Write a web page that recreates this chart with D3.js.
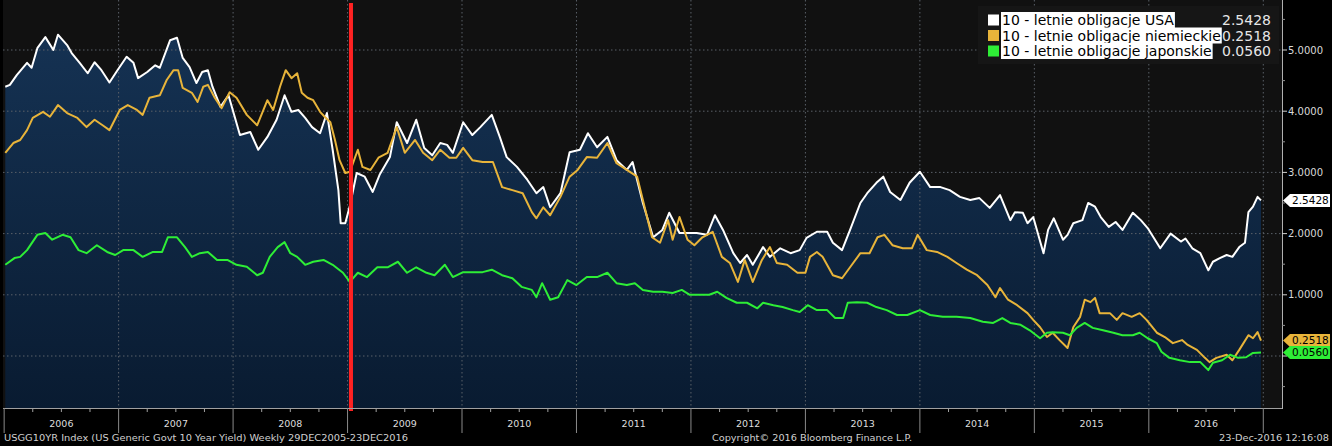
<!DOCTYPE html>
<html>
<head>
<meta charset="utf-8">
<script src="https://cdn.jsdelivr.net/npm/d3@7"></script>
<style>
html, body { margin: 0; padding: 0; background: #000; overflow: hidden; }
svg { display: block; }
</style>
</head>
<body>
<div id="chart"></div>
<script>
/* daty jako ułamek roku, wartości w % */
const us_dates = [2006.01,2006.05,2006.11,2006.20,2006.24,2006.29,2006.36,2006.43,2006.47,2006.55,2006.59,2006.66,2006.73,2006.79,2006.85,2006.92,2006.99,
	2007.07,2007.13,2007.17,2007.25,2007.32,2007.36,2007.45,2007.51,2007.56,2007.62,2007.68,2007.73,2007.78,2007.82,2007.89,2007.96,
	2008.06,2008.15,2008.22,2008.30,2008.38,2008.45,2008.51,2008.57,2008.63,2008.69,2008.76,2008.82,2008.87,2008.92,2008.94,2008.98,
	2009.02,2009.08,2009.15,2009.22,2009.28,2009.37,2009.43,2009.52,2009.60,2009.67,2009.74,2009.81,2009.87,2009.92,
	2010.01,2010.09,2010.16,2010.26,2010.33,2010.39,2010.48,2010.57,2010.65,2010.71,2010.77,2010.86,2010.94,
	2011.03,2011.10,2011.18,2011.27,2011.35,2011.44,2011.49,2011.58,2011.67,2011.75,2011.81,2011.90,
	2012.05,2012.14,2012.21,2012.28,2012.37,2012.43,2012.49,2012.54,2012.63,2012.69,2012.78,2012.87,2012.95,
	2013.01,2013.10,2013.19,2013.24,2013.32,2013.39,2013.48,2013.54,2013.62,2013.68,2013.74,2013.83,2013.91,
	2014.00,2014.09,2014.18,2014.26,2014.35,2014.44,2014.52,2014.61,2014.70,2014.79,2014.83,2014.90,2014.94,2014.99,
	2015.08,2015.12,2015.17,2015.25,2015.29,2015.34,2015.42,2015.47,2015.53,2015.58,2015.65,2015.71,2015.77,2015.86,2015.93,2015.99,
	2016.10,2016.19,2016.28,2016.32,2016.38,2016.45,2016.52,2016.56,2016.62,2016.68,2016.73,2016.79,2016.84,2016.87,2016.91,2016.95,2016.98];
const us_values = [4.40,4.43,4.59,4.79,4.71,5.03,5.21,5.00,5.25,5.08,4.95,4.79,4.62,4.80,4.67,4.47,4.67,
	4.89,4.79,4.54,4.64,4.75,4.71,5.16,5.20,4.87,4.72,4.46,4.64,4.67,4.40,4.07,4.26,
	3.61,3.66,3.37,3.58,3.86,4.26,3.99,4.02,3.89,3.74,3.64,3.97,3.37,2.71,2.17,2.17,
	2.45,2.99,2.93,2.68,2.96,3.25,3.82,3.48,3.86,3.40,3.28,3.48,3.45,3.32,
	3.82,3.61,3.74,3.94,3.58,3.25,3.09,2.88,2.66,2.76,2.43,2.66,3.33,
	3.37,3.64,3.41,3.58,3.20,3.04,3.17,2.50,1.94,2.06,2.34,2.01,
	2.01,1.98,2.30,2.06,1.68,1.52,1.65,1.49,1.78,1.62,1.76,1.68,1.73,
	1.93,2.03,2.03,1.85,1.73,2.06,2.50,2.66,2.83,2.93,2.68,2.55,2.83,
	3.01,2.76,2.76,2.71,2.60,2.55,2.58,2.42,2.63,2.22,2.35,2.34,2.17,2.27,
	1.68,2.06,2.25,1.90,1.98,2.17,2.22,2.50,2.44,2.27,2.11,2.19,2.06,2.34,2.22,2.09,
	1.76,2.00,1.87,1.92,1.76,1.68,1.40,1.54,1.60,1.65,1.62,1.78,1.85,2.35,2.44,2.60,2.5428];

const de_dates = [2006.01,2006.08,2006.14,2006.20,2006.25,2006.34,2006.40,2006.47,2006.55,2006.64,2006.72,2006.79,2006.86,2006.92,
	2007.01,2007.08,2007.16,2007.21,2007.27,2007.36,2007.42,2007.48,2007.52,2007.56,2007.64,2007.69,2007.74,2007.78,2007.84,2007.90,2007.97,
	2008.03,2008.12,2008.21,2008.30,2008.35,2008.41,2008.46,2008.51,2008.56,2008.60,2008.65,2008.70,2008.76,2008.80,2008.85,2008.89,2008.93,2008.98,
	2009.02,2009.09,2009.13,2009.20,2009.27,2009.35,2009.43,2009.50,2009.59,2009.66,2009.74,2009.81,2009.89,2009.95,
	2010.01,2010.09,2010.18,2010.27,2010.35,2010.44,2010.53,2010.61,2010.65,2010.71,2010.77,2010.86,2010.94,
	2011.01,2011.09,2011.18,2011.27,2011.35,2011.44,2011.53,2011.58,2011.66,2011.73,2011.80,2011.84,2011.90,2011.97,
	2012.03,2012.10,2012.19,2012.27,2012.34,2012.41,2012.47,2012.54,2012.62,2012.69,2012.75,2012.84,2012.93,
	2013.00,2013.04,2013.10,2013.15,2013.24,2013.32,2013.39,2013.48,2013.56,2013.63,2013.69,2013.76,2013.85,2013.93,2013.98,
	2014.06,2014.15,2014.24,2014.32,2014.41,2014.50,2014.59,2014.66,2014.70,2014.77,2014.85,2014.94,2014.99,
	2015.05,2015.11,2015.16,2015.22,2015.29,2015.34,2015.40,2015.44,2015.49,2015.53,2015.57,2015.66,2015.72,2015.77,2015.85,2015.92,2015.98,
	2016.07,2016.14,2016.21,2016.29,2016.34,2016.42,2016.49,2016.53,2016.59,2016.68,2016.73,2016.79,2016.87,2016.91,2016.95,2016.98];
const de_values = [3.32,3.48,3.53,3.69,3.89,3.99,3.91,4.10,3.97,3.89,3.74,3.86,3.77,3.69,
	4.02,4.10,4.02,3.94,4.22,4.26,4.51,4.67,4.67,4.38,4.30,4.15,4.40,4.43,4.22,4.05,4.31,
	4.22,3.94,3.77,4.18,4.02,4.40,4.67,4.54,4.62,4.30,4.22,4.18,3.99,3.91,3.82,3.53,3.20,2.99,
	3.01,3.37,3.09,3.04,3.24,3.32,3.74,3.32,3.53,3.32,3.20,3.37,3.24,3.24,
	3.40,3.20,3.17,3.17,2.76,2.71,2.66,2.35,2.25,2.43,2.30,2.60,2.93,
	3.04,3.25,3.24,3.48,3.15,3.04,2.93,2.55,1.94,1.85,2.22,1.90,2.27,1.90,
	1.81,1.94,2.03,1.62,1.52,1.21,1.57,1.21,1.57,1.78,1.52,1.49,1.36,
	1.36,1.62,1.70,1.62,1.32,1.27,1.45,1.68,1.68,1.94,1.98,1.81,1.76,1.76,1.98,
	1.73,1.70,1.62,1.52,1.41,1.32,1.16,0.96,1.11,0.92,0.83,0.70,0.59,
	0.47,0.31,0.38,0.26,0.13,0.47,0.64,0.92,0.88,0.95,0.70,0.70,0.59,0.70,0.64,0.70,0.59,
	0.38,0.31,0.21,0.26,0.18,0.10,-0.03,-0.10,-0.03,0.02,-0.07,0.10,0.34,0.29,0.39,0.2518];

const jp_dates = [2006.01,2006.09,2006.14,2006.20,2006.29,2006.36,2006.42,2006.51,2006.58,2006.65,2006.72,2006.81,2006.90,2006.97,
	2007.04,2007.13,2007.21,2007.30,2007.38,2007.43,2007.51,2007.58,2007.64,2007.71,2007.78,2007.86,2007.95,
	2008.03,2008.12,2008.21,2008.26,2008.32,2008.39,2008.45,2008.50,2008.56,2008.63,2008.70,2008.79,2008.87,2008.96,
	2009.02,2009.09,2009.17,2009.26,2009.35,2009.44,2009.52,2009.60,2009.69,2009.76,2009.85,2009.92,
	2010.01,2010.09,2010.18,2010.26,2010.35,2010.44,2010.52,2010.61,2010.65,2010.70,2010.77,2010.84,2010.92,
	2011.00,2011.09,2011.18,2011.27,2011.35,2011.44,2011.51,2011.58,2011.67,2011.75,2011.84,2011.92,2011.99,
	2012.08,2012.16,2012.23,2012.31,2012.40,2012.49,2012.58,2012.63,2012.72,2012.80,2012.89,2012.95,
	2013.02,2013.10,2013.19,2013.26,2013.33,2013.37,2013.45,2013.54,2013.62,2013.71,2013.80,2013.89,
	2014.00,2014.09,2014.20,2014.32,2014.44,2014.55,2014.64,2014.72,2014.79,2014.88,2014.96,
	2015.05,2015.11,2015.16,2015.25,2015.31,2015.37,2015.44,2015.51,2015.60,2015.69,2015.77,2015.86,2015.92,2015.99,
	2016.07,2016.11,2016.18,2016.27,2016.36,2016.45,2016.52,2016.56,2016.64,2016.71,2016.78,2016.85,2016.91,2016.98];
const jp_values = [1.49,1.60,1.62,1.73,1.98,2.01,1.90,1.98,1.94,1.73,1.68,1.81,1.70,1.65,
	1.73,1.73,1.62,1.70,1.70,1.94,1.94,1.78,1.62,1.68,1.70,1.57,1.57,
	1.49,1.46,1.32,1.36,1.62,1.78,1.86,1.68,1.62,1.49,1.54,1.57,1.49,1.36,
	1.21,1.36,1.29,1.45,1.45,1.54,1.36,1.45,1.36,1.32,1.49,1.29,
	1.37,1.37,1.37,1.41,1.32,1.27,1.13,1.08,0.96,1.19,0.92,0.96,1.24,
	1.16,1.29,1.29,1.36,1.19,1.16,1.19,1.08,1.05,1.05,1.03,1.08,1.00,
	1.00,1.00,1.05,0.95,0.87,0.87,0.78,0.87,0.83,0.80,0.75,0.72,
	0.83,0.75,0.75,0.62,0.62,0.87,0.88,0.87,0.80,0.75,0.67,0.67,
	0.75,0.67,0.64,0.64,0.62,0.56,0.54,0.62,0.54,0.51,0.42,
	0.29,0.38,0.39,0.38,0.34,0.46,0.54,0.46,0.42,0.38,0.34,0.34,0.38,0.29,
	0.21,0.07,-0.03,-0.07,-0.10,-0.10,-0.23,-0.11,-0.07,0.02,-0.03,-0.02,0.05,0.056];

const years = [2006, 2007, 2008, 2009, 2010, 2011, 2012, 2013, 2014, 2015, 2016, 2017];
const y_ticks = [0, 1, 2, 3, 4, 5];
/* etykieta 0.0000 jest zasłonięta przez znaczniki, więc jej nie ma */
const y_labels = [1, 2, 3, 4, 5];
const y_minor_ticks = [-0.5, 0.5, 1.5, 2.5, 3.5, 4.5, 5.5];
const legend_names = ['10 - letnie obligacje USA', '10 - letnie obligacje niemieckie', '10 - letnie obligacje japonskie'];
const last_values = [2.5428, 0.2518, 0.0560];
const marker_date = 2009.03;

const footer_left = 'USGG10YR Index (US Generic Govt 10 Year Yield)  Weekly 29DEC2005-23DEC2016';
const footer_mid = 'Copyright\u00a9 2016 Bloomberg Finance L.P.';
const footer_right = '23-Dec-2016 12:16:08';

/* wygląd */
const colors = ['#ffffff', '#e8b43a', '#2eee36'];
const FONT = 'DejaVu Sans, Verdana, sans-serif';
const plot = {left: 3, right: 1282, top: 0, bottom: 408};

const zip = (dates, values) => dates.map((t, i) => ({t: t, v: values[i]}));

const draw = () => {
	const svg = d3.select('#chart').append('svg')
		.attr('width', 1332).attr('height', 446);

	const x_scale = d3.scaleLinear().domain([2005.99, 2016.98]).range([3, 1261]);
	const y_scale = d3.scaleLinear().domain([0, 5]).range([356, 50]);

	const us = zip(us_dates, us_values);
	const de = zip(de_dates, de_values);
	const jp = zip(jp_dates, jp_values);

	// gradient pod linią USA
	const defs = svg.append('defs');
	const grad = defs.append('linearGradient').attr('id', 'fill_grad')
		.attr('gradientUnits', 'userSpaceOnUse')
		.attr('x1', 0).attr('y1', plot.top).attr('x2', 0).attr('y2', plot.bottom);
	grad.append('stop').attr('offset', 0).attr('stop-color', '#163456');
	grad.append('stop').attr('offset', 1).attr('stop-color', '#091b31');

	defs.append('clipPath').attr('id', 'plot_clip').append('rect')
		.attr('x', plot.left).attr('y', plot.top)
		.attr('width', plot.right - plot.left).attr('height', plot.bottom - plot.top);

	// tło wykresu
	svg.append('rect')
		.attr('x', plot.left).attr('y', plot.top)
		.attr('width', plot.right - plot.left).attr('height', plot.bottom - plot.top)
		.attr('fill', '#111111');

	const g = svg.append('g').attr('clip-path', 'url(#plot_clip)');

	const area = d3.area()
		.x(d => x_scale(d.t))
		.y0(plot.bottom)
		.y1(d => y_scale(d.v));
	g.append('path').datum(us).attr('d', area).attr('fill', 'url(#fill_grad)');

	// siatka
	g.selectAll('.vgrid').data(years.slice(1)).enter().append('line')
		.attr('x1', d => x_scale(d)).attr('x2', d => x_scale(d))
		.attr('y1', plot.top).attr('y2', plot.bottom)
		.attr('stroke', '#5a6068').attr('stroke-width', 1)
		.attr('stroke-dasharray', '1.5,2.5');
	g.selectAll('.hgrid').data(y_ticks).enter().append('line')
		.attr('x1', plot.left).attr('x2', plot.right)
		.attr('y1', d => y_scale(d)).attr('y2', d => y_scale(d))
		.attr('stroke', '#5a6068').attr('stroke-width', 1)
		.attr('stroke-dasharray', '1.5,2.5');

	// linie
	const line = d3.line().x(d => x_scale(d.t)).y(d => y_scale(d.v));
	[us, de, jp].forEach((s, i) => {
		g.append('path').datum(s)
			.attr('d', line)
			.attr('fill', 'none')
			.attr('stroke', colors[i])
			.attr('stroke-width', 2)
			.attr('stroke-linejoin', 'round');
	});

	// czerwona linia
	svg.append('line')
		.attr('x1', x_scale(marker_date)).attr('x2', x_scale(marker_date))
		.attr('y1', 3).attr('y2', 411)
		.attr('stroke', '#ff2222').attr('stroke-width', 4);

	// oś X
	svg.append('line')
		.attr('x1', plot.left).attr('x2', plot.right)
		.attr('y1', plot.bottom + 0.5).attr('y2', plot.bottom + 0.5)
		.attr('stroke', '#a0a0a0');
	let quarters = [];
	years.slice(0, -1).forEach(y => [0.25, 0.5, 0.75].forEach(q => quarters.push(y + q)));
	svg.selectAll('.qtick').data(quarters).enter().append('line')
		.attr('x1', d => x_scale(d)).attr('x2', d => x_scale(d))
		.attr('y1', plot.bottom).attr('y2', plot.bottom + 4)
		.attr('stroke', '#a0a0a0');
	svg.selectAll('.ytick_sep').data(years).enter().append('line')
		.attr('x1', d => Math.max(plot.left, x_scale(d))).attr('x2', d => Math.max(plot.left, x_scale(d)))
		.attr('y1', plot.bottom).attr('y2', 433)
		.attr('stroke', '#8a8a8a');
	svg.selectAll('.year_label').data(years.slice(0, -1)).enter().append('text')
		.attr('x', d => x_scale(d + 0.5)).attr('y', 427)
		.attr('text-anchor', 'middle')
		.attr('font-family', FONT).attr('font-size', '9.5px')
		.attr('fill', '#dddddd')
		.text(d => d);

	// oś Y (prawa)
	svg.append('line')
		.attr('x1', plot.right + 0.5).attr('x2', plot.right + 0.5)
		.attr('y1', plot.top).attr('y2', plot.bottom + 1)
		.attr('stroke', '#b0b0b0');
	svg.selectAll('.ymajor').data(y_ticks).enter().append('line')
		.attr('x1', plot.right).attr('x2', plot.right + 5)
		.attr('y1', d => y_scale(d)).attr('y2', d => y_scale(d))
		.attr('stroke', '#d0d0d0');
	svg.selectAll('.yminor').data(y_minor_ticks).enter().append('line')
		.attr('x1', plot.right).attr('x2', plot.right + 3)
		.attr('y1', d => y_scale(d)).attr('y2', d => y_scale(d))
		.attr('stroke', '#909090');
	svg.selectAll('.ylabel').data(y_labels).enter().append('text')
		.attr('x', plot.right + 6).attr('y', d => y_scale(d))
		.attr('dy', '0.35em')
		.attr('font-family', FONT).attr('font-size', '10px')
		.attr('fill', '#d8d8d8')
		.text(d => d3.format('.4f')(d));

	// znaczniki ostatnich wartości
	[1, 2, 0].forEach(i => {
		const c = y_scale(last_values[i]);
		const h = 6.5;
		svg.append('path')
			.attr('d', `M${plot.right + 1},${c} L${plot.right + 8},${c - h} L1330,${c - h} L1330,${c + h} L${plot.right + 8},${c + h} Z`)
			.attr('fill', colors[i]);
		svg.append('text')
			.attr('x', plot.right + 10).attr('y', c)
			.attr('dy', '0.36em')
			.attr('font-family', FONT).attr('font-size', '10.5px')
			.attr('fill', '#000')
			.text(d3.format('.4f')(last_values[i]));
	});

	// legenda
	const lg = svg.append('g');
	lg.append('rect')
		.attr('x', 978).attr('y', 6).attr('width', 301).attr('height', 58)
		.attr('fill', '#161616');
	legend_names.forEach((name, i) => {
		const cy = 20 + i * 15.5;
		lg.append('rect')
			.attr('x', 988).attr('y', cy - 5.5).attr('width', 11).attr('height', 11)
			.attr('fill', colors[i]);
		const bg = lg.append('rect')
			.attr('x', 1001).attr('y', cy - 8).attr('height', 16)
			.attr('fill', '#ffffff');
		const t = lg.append('text')
			.attr('x', 1002).attr('y', cy)
			.attr('dy', '0.36em')
			.attr('font-family', FONT).attr('font-size', '14px')
			.attr('fill', '#000')
			.text(name);
		bg.attr('width', t.node().getComputedTextLength() + 2);
		lg.append('text')
			.attr('x', 1271).attr('y', cy)
			.attr('dy', '0.36em')
			.attr('text-anchor', 'end')
			.attr('font-family', FONT).attr('font-size', '14px')
			.attr('fill', '#e6e6e6')
			.text(d3.format('.4f')(last_values[i]));
	});

	// stopka
	const foot = (txt, x, anchor, len) => {
		svg.append('text')
			.attr('x', x).attr('y', 441)
			.attr('text-anchor', anchor)
			.attr('font-family', FONT).attr('font-size', '9.5px')
			.attr('fill', '#d0d0d0')
			.attr('textLength', len).attr('lengthAdjust', 'spacingAndGlyphs')
			.text(txt);
	};
	foot(footer_left, 4, 'start', 404);
	foot(footer_mid, 712, 'start', 200);
	foot(footer_right, 1329, 'end', 110);
};

document.addEventListener('DOMContentLoaded', () => {
	draw();
});
</script>
</body>
</html>
